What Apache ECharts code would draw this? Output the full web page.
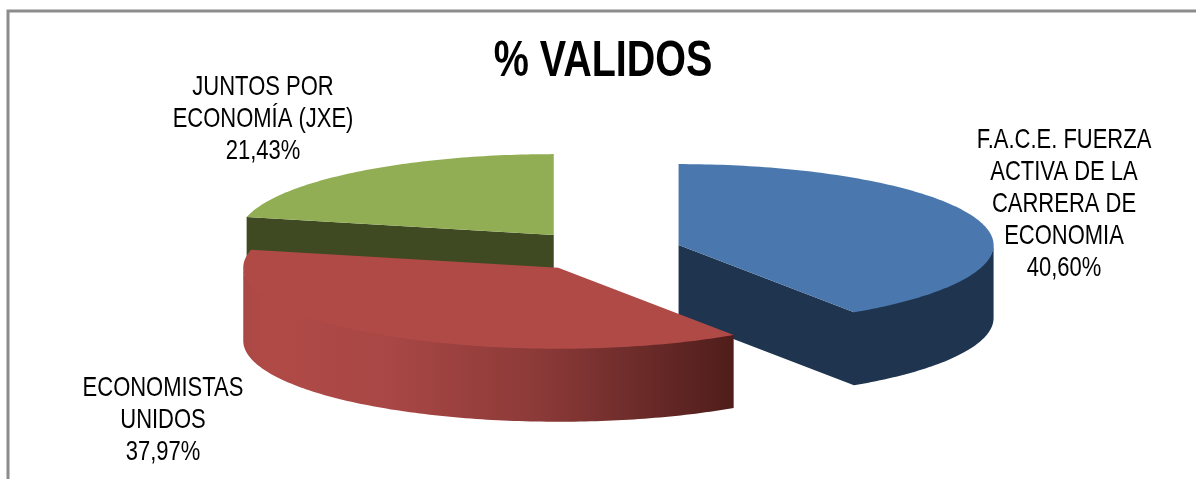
<!DOCTYPE html>
<html>
<head>
<meta charset="utf-8">
<title>% VALIDOS</title>
<script src="https://cdn.jsdelivr.net/npm/echarts@6/dist/echarts.min.js"></script>
<style>
html, body { margin: 0; padding: 0; background: #fff; }
#myChart { width: 1196px; height: 479px; }
</style>
</head>
<body>
<div id="myChart"></div>
<script>
var chartTitle = '% VALIDOS';
var categories = ['F.A.C.E. FUERZA\nACTIVA DE LA\nCARRERA DE\nECONOMIA', 'ECONOMISTAS\nUNIDOS', 'JUNTOS POR\nECONOMÍA (JXE)'];
var values = [40.60, 37.97, 21.43];

// styles, one per slice
var topColors = ['#4a78ae', '#b04a47', '#92ae54'];
var sideColors = ['#1f344f', null, '#3f4a22'];
var sliceZ = [1, 3, 2];
var labelCenters = [[1064, 204], [163, 420], [263, 119]];

// pie layout
var cx = 603, cy = 251;
var rx = 315, ry = 81;
var depth = 73;
var explode = 79;
var fontName = '"Liberation Sans", Arial, sans-serif';
var textSqueeze = 0.785;

var total = 0;
for (var i = 0; i < values.length; i++) {
	total += values[i];
}

function rad(deg) {
	return deg * Math.PI / 180;
}

// angle runs clockwise from 12 o'clock
function rimPoints(ox, oy, from, to, dy) {
	var pts = [];
	var steps = Math.max(2, Math.ceil(Math.abs(to - from)));
	for (var s = 0; s <= steps; s++) {
		var a = rad(from + (to - from) * s / steps);
		pts.push([ox + rx * Math.sin(a), oy - ry * Math.cos(a) + dy]);
	}
	return pts;
}

function face(points, fill, z2) {
	return {
		type : 'polygon',
		z2 : z2,
		shape : { points : points },
		style : { fill : fill, stroke : null }
	};
}

function redSideFill() {
	return {
		type : 'linear',
		global : true,
		x : cx - 45 - rx,
		y : 0,
		x2 : cx + 131,
		y2 : 0,
		colorStops : [
			{ offset : 0, color : '#aa4846' },
			{ offset : 0.05, color : '#b04a47' },
			{ offset : 0.3, color : '#a84745' },
			{ offset : 0.6, color : '#8c3a38' },
			{ offset : 0.8, color : '#6d2c2a' },
			{ offset : 1, color : '#4f1d1b' }
		]
	};
}

function renderSlice(params, api) {
	var idx = params.dataIndex;
	var before = 0;
	for (var k = 0; k < idx; k++) {
		before += values[k];
	}
	var a0 = before / total * 360;
	var a1 = (before + values[idx]) / total * 360;
	var mid = rad((a0 + a1) / 2);
	var ox = cx + explode * Math.sin(mid);
	var oy = cy - explode * ry / rx * Math.cos(mid);
	var z = sliceZ[idx] * 10;
	var side = sideColors[idx] || redSideFill();
	var children = [];

	// radial walls facing the viewer
	var walls = [];
	if (Math.sin(rad(a1)) > 0.01) {
		walls.push(a1);
	}
	if (Math.sin(rad(a0)) < -0.01) {
		walls.push(a0);
	}
	for (var w = 0; w < walls.length; w++) {
		var e = rimPoints(ox, oy, walls[w], walls[w], 0)[0];
		children.push(face([[ox, oy], e, [e[0], e[1] + depth], [ox, oy + depth]], side, z));
	}

	// outer wall, front half of the rim only; runs 1px under the top so no seam shows
	var fromA = Math.max(a0, 90);
	var toA = Math.min(a1, 270);
	if (toA > fromA) {
		var up = rimPoints(ox, oy, fromA, toA, -1);
		var down = rimPoints(ox, oy, toA, fromA, depth);
		children.push(face(up.concat(down), side, z + 1));
	}

	// top surface
	children.push(face([[ox, oy]].concat(rimPoints(ox, oy, a0, a1, 0)), topColors[idx], z + 2));

	// label
	var pct = values[idx].toFixed(2).replace('.', ',') + '%';
	children.push({
		type : 'text',
		z2 : 100,
		x : labelCenters[idx][0],
		y : labelCenters[idx][1],
		scaleX : textSqueeze,
		style : {
			text : categories[idx] + '\n' + pct,
			align : 'center',
			verticalAlign : 'middle',
			fontFamily : fontName,
			fontSize : 28,
			lineHeight : 32,
			fill : '#000'
		}
	});

	return { type : 'group', children : children };
}

var myChart = echarts.init(document.getElementById('myChart'));
var option = {
	animation : false,
	backgroundColor : '#fff',
	graphic : [ {
		type : 'polyline',
		shape : { points : [[8, 479], [8, 11], [1196, 11]] },
		style : { stroke : '#8c8c8c', lineWidth : 3, fill : null }
	}, {
		type : 'text',
		x : cx,
		y : 62,
		scaleX : 0.79,
		style : {
			text : chartTitle,
			align : 'center',
			verticalAlign : 'middle',
			fontFamily : fontName,
			fontWeight : 'bold',
			fontSize : 50,
			fill : '#000'
		}
	} ],
	series : [ {
		type : 'custom',
		coordinateSystem : 'none',
		renderItem : renderSlice,
		data : values
	} ]
};
myChart.setOption(option);
</script>
</body>
</html>
